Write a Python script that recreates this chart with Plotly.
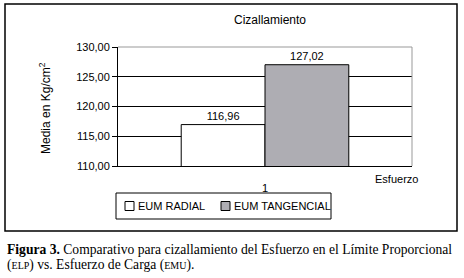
import plotly.graph_objects as go

categories = ["1"]
series_names = ["EUM RADIAL", "EUM TANGENCIAL"]
radial_values = [116.96]
tangential_values = [127.02]
y_ticks = [110, 115, 120, 125, 130]

W, H = 464, 278
L, R, T, B = 118, 412, 47, 166  # plot area in pixels

def px(x):
    return (x - L) / (R - L)

def py(y):
    return (B - y) / (B - T)

FONT = "Liberation Sans, Arial, sans-serif"
SERIF = "Liberation Serif, Times New Roman, serif"

fig = go.Figure()
fig.add_trace(go.Bar(
    x=categories, y=radial_values, name=series_names[0],
    marker=dict(color="white", line=dict(color="black", width=1)),
    text=radial_values, texttemplate="%{y:.2f}", textposition="outside",
    textfont=dict(family=FONT, size=11, color="black"), cliponaxis=False,
))
fig.add_trace(go.Bar(
    x=categories, y=tangential_values, name=series_names[1],
    marker=dict(color="#aeadb3", line=dict(color="black", width=1)),
    text=tangential_values, texttemplate="%{y:.2f}", textposition="outside",
    textfont=dict(family=FONT, size=11, color="black"), cliponaxis=False,
))

shapes = [
    dict(type="rect", xref="paper", yref="paper", x0=px(5), x1=px(457), y0=py(231), y1=py(4),
         line=dict(color="black", width=1.5), layer="below"),
    dict(type="line", xref="paper", yref="paper", x0=0, x1=1, y0=1, y1=1,
         line=dict(color="#999999", width=1)),
    dict(type="line", xref="paper", yref="paper", x0=1, x1=1, y0=0, y1=1,
         line=dict(color="#999999", width=1)),
    dict(type="rect", xref="paper", yref="paper", x0=px(116), x1=px(331), y0=py(219), y1=py(193),
         line=dict(color="black", width=1)),
    dict(type="rect", xref="paper", yref="paper", x0=px(125), x1=px(134), y0=py(210.5), y1=py(201.5),
         line=dict(color="black", width=1), fillcolor="white"),
    dict(type="rect", xref="paper", yref="paper", x0=px(221), x1=px(230), y0=py(210.5), y1=py(201.5),
         line=dict(color="black", width=1), fillcolor="#aeadb3"),
]

def ann(text, x, y, size=11, xanchor="center", family=FONT, **kw):
    return dict(text=text, xref="paper", yref="paper", x=px(x), y=py(y),
                xanchor=xanchor, yanchor="middle", showarrow=False,
                font=dict(family=family, size=size, color="black"), **kw)

annotations = [
    ann("Cizallamiento", 270, 20, size=12),
    ann("Media en Kg/cm<sup>2</sup>", 45, 108, size=12, textangle=-90),
    ann("Esfuerzo", 396, 179),
    ann(series_names[0], 136, 206, xanchor="left"),
    ann(series_names[1], 232, 206, xanchor="left"),
    ann("<b>Figura 3.</b> Comparativo para cizallamiento del Esfuerzo en el Límite Proporcional",
        5, 249, size=13.6, xanchor="left", family=SERIF),
    ann("(<span style='font-size:10px'>ELP</span>) vs. Esfuerzo de Carga (<span style='font-size:10px'>EMU</span>).",
        5, 265, size=13.6, xanchor="left", family=SERIF),
]

fig.update_layout(
    width=W, height=H,
    margin=dict(l=L, r=W - R, t=T, b=H - B, pad=0),
    paper_bgcolor="white", plot_bgcolor="white",
    barmode="group", bargap=0.43, bargroupgap=0,
    separators=",.",
    showlegend=False,
    shapes=shapes, annotations=annotations,
    font=dict(family=FONT, size=11, color="black"),
    xaxis=dict(showgrid=False, showline=True, linecolor="black", linewidth=1,
               ticks="", tickfont=dict(family=FONT, size=11, color="black"),
               ticklabelstandoff=12, fixedrange=True),
    yaxis=dict(range=[110, 130], tickvals=y_ticks, tickformat=".2f",
               showgrid=True, gridcolor="black", gridwidth=1,
               showline=True, linecolor="black", linewidth=1,
               ticks="outside", ticklen=5, tickcolor="black",
               tickfont=dict(family=FONT, size=11, color="black"), zeroline=False),
)

fig.write_html("out.html", config={"displayModeBar": False},
               post_script="document.body.style.margin='0';document.body.style.overflow='hidden';")
